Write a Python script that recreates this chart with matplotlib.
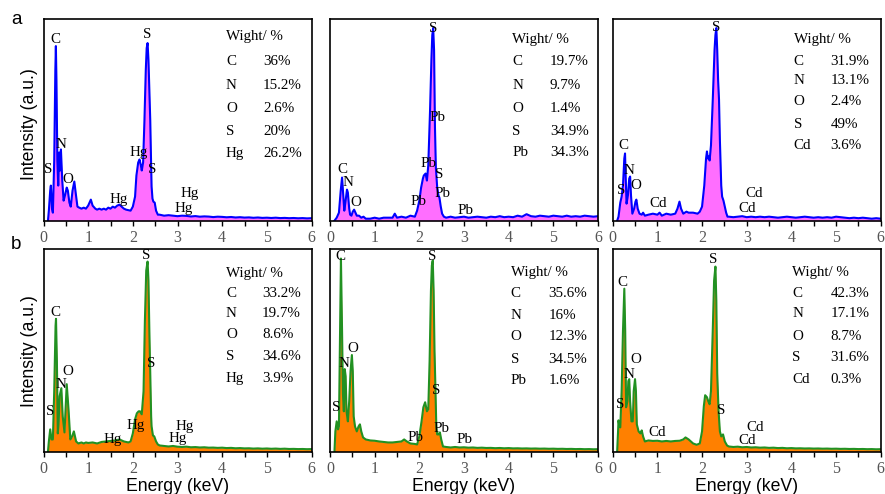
import matplotlib
matplotlib.use("Agg")
import matplotlib.pyplot as plt
from matplotlib.ticker import MultipleLocator

# ---------------- data ----------------
tail_energy = [2.6, 2.7, 2.8, 2.9, 3.0, 3.1, 3.2, 3.3, 3.4, 3.5, 3.6, 3.7, 3.8, 3.9,
               4.0, 4.1, 4.2, 4.3, 4.4, 4.5, 4.6, 4.7, 4.8, 4.9, 5.0, 5.1, 5.2, 5.3,
               5.4, 5.5, 5.6, 5.7, 5.8, 5.9, 6.0]

a1_energy = [0.10, 0.12, 0.15, 0.165, 0.19, 0.21, 0.24, 0.265, 0.277, 0.29, 0.31, 0.33,
             0.35, 0.37, 0.39, 0.42, 0.45, 0.48, 0.52, 0.545, 0.58, 0.61, 0.65, 0.69,
             0.72, 0.76, 0.80, 0.85, 0.90, 0.95, 1.00, 1.06, 1.10, 1.16, 1.20, 1.25,
             1.30, 1.35, 1.40, 1.45, 1.50, 1.55, 1.60, 1.65, 1.70, 1.75, 1.80, 1.85,
             1.90, 1.95, 2.00, 2.05, 2.08, 2.12, 2.15, 2.18, 2.20, 2.23, 2.26, 2.29,
             2.31, 2.33, 2.35, 2.37, 2.39, 2.41, 2.42, 2.44, 2.46, 2.49, 2.52, 2.56]
a1_counts = [0, 10, 30, 35, 12, 8, 60, 150, 174, 140, 60, 35,
             68, 50, 71, 40, 20, 25, 33, 30, 18, 14, 30, 39,
             28, 14, 13, 12, 13, 12, 15, 21, 15, 12, 11, 12,
             11, 12, 11, 13, 12, 14, 13, 15, 16, 14, 12, 11,
             10.5, 10, 14, 24, 45, 58, 61, 55, 50, 58, 100, 150,
             172, 177, 160, 130, 100, 55, 34, 22, 19, 18, 10, 6]
a1_tail = [6, 5, 5.5, 5, 4.5, 5, 4.8, 4.2, 4.6, 4, 4.3, 4.1, 3.6, 4, 3.8, 3.4, 3.7,
           3.2, 3.5, 3.1, 3.3, 2.9, 3.2, 2.8, 3.0, 2.7, 3.0, 2.6, 2.8, 2.5, 2.7, 2.4,
           2.6, 2.3, 2.5]

a2_energy = [0.10, 0.15, 0.20, 0.24, 0.27, 0.29, 0.32, 0.35, 0.38, 0.40, 0.43, 0.45,
             0.48, 0.51, 0.54, 0.57, 0.60, 0.65, 0.70, 0.75, 0.80, 0.90, 1.00, 1.10,
             1.20, 1.30, 1.40, 1.45, 1.50, 1.60, 1.70, 1.80, 1.90, 1.95, 2.00, 2.04,
             2.08, 2.10, 2.14, 2.17, 2.20, 2.24, 2.27, 2.29, 2.31, 2.33, 2.35, 2.37,
             2.40, 2.43, 2.45, 2.48, 2.51, 2.55]
a2_counts = [0, 3, 8, 30, 43, 30, 10, 20, 31, 28, 12, 6,
             5, 9, 11, 8, 5, 5, 3, 4, 2, 2, 3, 2,
             3, 3, 3, 7, 3, 4, 3, 5, 4, 10, 20, 33,
             42, 45, 47, 40, 55, 110, 160, 185, 192, 170, 93, 53,
             33, 25, 23, 14, 7, 4]
a2_tail = [3, 4, 3, 3.5, 4, 3, 3.5, 4, 3.5, 3, 4, 3.5, 4.5, 3.5, 4, 3.5, 5, 4, 6.5,
           4.5, 4, 5, 4.5, 4, 5, 4.5, 4, 5, 4, 4.5, 4, 5, 4.5, 4, 4.5]

a3_energy = [0.10, 0.13, 0.17, 0.20, 0.23, 0.26, 0.276, 0.29, 0.31, 0.34, 0.37, 0.39,
             0.41, 0.44, 0.48, 0.51, 0.53, 0.56, 0.60, 0.65, 0.68, 0.72, 0.80, 0.90,
             1.00, 1.05, 1.10, 1.20, 1.30, 1.40, 1.45, 1.495, 1.53, 1.58, 1.65, 1.70,
             1.80, 1.90, 1.95, 2.00, 2.05, 2.09, 2.11, 2.13, 2.15, 2.17, 2.20, 2.24,
             2.28, 2.30, 2.32, 2.34, 2.36, 2.38, 2.40, 2.43, 2.45, 2.48, 2.50, 2.54, 2.57]
a3_counts = [0, 4, 18, 24, 35, 62, 67, 45, 17, 25, 42, 44,
             25, 7, 12, 19, 21, 12, 7, 6, 8, 5, 6, 7,
             6, 8, 5, 7, 6, 7, 12, 19, 12, 7, 9, 8,
             8, 7, 9, 14, 35, 62, 69, 62, 64, 60, 75, 120,
             170, 185, 192, 170, 140, 121, 80, 35, 24, 20, 16, 8, 4]
a3_tail = [4, 3.5, 4, 4.5, 3.5, 4, 3.5, 4, 3.5, 4, 3.5, 3, 3.5, 4, 3.5, 3, 3.5, 4,
           3.5, 3, 3.5, 3, 3.5, 3, 4, 3.5, 3, 2.5, 3, 2.5, 3, 2.5, 2, 2.5, 2]

b1_energy = [0.10, 0.12, 0.15, 0.18, 0.21, 0.24, 0.27, 0.28, 0.30, 0.32, 0.34, 0.36,
             0.40, 0.43, 0.47, 0.52, 0.56, 0.60, 0.64, 0.68, 0.73, 0.78, 0.85, 0.90,
             0.95, 1.00, 1.10, 1.20, 1.30, 1.40, 1.50, 1.60, 1.70, 1.80, 1.90, 1.95,
             2.00, 2.05, 2.09, 2.13, 2.16, 2.20, 2.24, 2.27, 2.30, 2.33, 2.35, 2.37,
             2.39, 2.41, 2.42, 2.45, 2.48, 2.52, 2.56]
b1_counts = [0, 10, 22, 12, 12, 60, 125, 132, 90, 18, 30, 55,
             63, 35, 19, 67, 42, 12, 15, 20, 10, 8, 9, 8,
             9, 8.5, 9, 8, 9.5, 10, 10.5, 11, 12, 10, 9, 10,
             18, 32, 38, 40, 40, 37, 60, 130, 180, 189, 170, 120,
             78, 35, 25, 16, 15, 10, 7]
b1_tail = [6, 5.5, 5, 5.5, 4.8, 4.5, 4.8, 4.2, 4.4, 4, 4.2, 3.8, 3.9, 3.6, 3.8, 3.4,
           3.6, 3.2, 3.4, 3.1, 3.2, 2.9, 3.1, 2.8, 3.0, 2.7, 2.9, 2.6, 2.8, 2.5, 2.6,
           2.4, 2.5, 2.3, 2.4]

b2_energy = [0.10, 0.12, 0.15, 0.18, 0.20, 0.22, 0.245, 0.27, 0.29, 0.31, 0.33, 0.35,
             0.37, 0.40, 0.43, 0.46, 0.49, 0.51, 0.53, 0.56, 0.60, 0.64, 0.67, 0.70,
             0.74, 0.80, 0.90, 1.00, 1.10, 1.20, 1.30, 1.40, 1.50, 1.60, 1.66, 1.72,
             1.80, 1.90, 1.95, 2.00, 2.05, 2.09, 2.13, 2.17, 2.20, 2.23, 2.26, 2.28,
             2.30, 2.32, 2.34, 2.36, 2.38, 2.40, 2.43, 2.46, 2.49, 2.53]
b2_counts = [0, 20, 30, 22, 25, 100, 192, 120, 57, 40, 82, 75,
             40, 30, 50, 80, 96, 80, 35, 25, 20, 25, 27, 20,
             14, 12, 11, 10.7, 10, 9.5, 9, 9, 9.5, 10, 12, 10,
             8, 7.5, 7, 15, 30, 44, 49, 40, 42, 90, 160, 185,
             190, 160, 100, 64, 25, 17, 17, 19, 12, 5]
b2_tail = [4.5, 4, 4.5, 4, 4.2, 3.8, 4, 3.6, 3.8, 3.5, 3.6, 3.3, 3.5, 3.2, 3.4, 3.1,
           3.2, 3.0, 3.1, 2.9, 3.0, 2.8, 2.9, 2.7, 2.8, 2.6, 2.7, 2.5, 2.6, 2.4, 2.5,
           2.3, 2.4, 2.2, 2.3]

b3_energy = [0.10, 0.12, 0.13, 0.15, 0.17, 0.20, 0.23, 0.26, 0.28, 0.30, 0.33, 0.35,
             0.37, 0.39, 0.42, 0.45, 0.47, 0.50, 0.52, 0.54, 0.58, 0.62, 0.65, 0.68,
             0.72, 0.80, 0.90, 1.00, 1.10, 1.20, 1.30, 1.40, 1.50, 1.58, 1.63, 1.70,
             1.80, 1.88, 1.95, 2.00, 2.04, 2.07, 2.11, 2.14, 2.17, 2.20, 2.24, 2.27,
             2.30, 2.32, 2.34, 2.37, 2.40, 2.43, 2.47, 2.51, 2.56]
b3_counts = [0, 20, 31, 25, 24, 60, 120, 162, 120, 44, 50, 70,
             72, 50, 30, 30, 60, 72, 60, 27, 20, 18, 21, 15,
             10, 11, 10.5, 10.7, 10, 10.5, 10, 10.5, 10.7, 12, 14, 12,
             8, 6.7, 8, 20, 45, 56, 54, 50, 47, 60, 120, 170,
             184, 150, 78, 40, 20, 15, 17, 10, 6]
b3_tail = [5, 4.5, 4.8, 4.2, 4.5, 4, 4.2, 3.8, 4, 3.6, 3.8, 3.4, 3.6, 3.2, 3.4, 3.1,
           3.2, 3.0, 3.1, 2.9, 3.0, 2.8, 2.9, 2.7, 2.8, 2.6, 2.7, 2.5, 2.6, 2.4, 2.5,
           2.3, 2.4, 2.2, 2.3]

# peak labels: (text, energy, height)
a1_peaks = [("C", 0.277, 181), ("S", 2.33, 186), ("S", 0.10, 51), ("N", 0.40, 76),
            ("O", 0.545, 41), ("Hg", 1.68, 21), ("Hg", 2.125, 68), ("S", 2.44, 51),
            ("Hg", 3.28, 27), ("Hg", 3.13, 12)]
a2_peaks = [("S", 2.31, 192), ("Pb", 2.41, 103), ("C", 0.275, 51), ("N", 0.41, 38),
            ("O", 0.575, 18), ("Pb", 2.2, 57), ("S", 2.445, 46), ("Pb", 1.99, 19),
            ("Pb", 2.51, 27), ("Pb", 3.04, 10)]
a3_peaks = [("S", 2.32, 193), ("C", 0.24, 75), ("N", 0.375, 50), ("S", 0.186, 30),
            ("O", 0.515, 35), ("Cd", 1.025, 17), ("Cd", 3.16, 27), ("Cd", 3.02, 12)]
b1_peaks = [("S", 2.30, 195), ("C", 0.27, 138), ("O", 0.54, 80), ("N", 0.40, 67),
            ("S", 0.15, 40), ("S", 2.41, 88), ("Hg", 2.07, 26), ("Hg", 1.55, 12),
            ("Hg", 3.15, 25), ("Hg", 3.0, 13)]
b2_peaks = [("C", 0.23, 194), ("S", 2.28, 194), ("O", 0.51, 102), ("N", 0.32, 88),
            ("S", 0.135, 44), ("S", 2.38, 61), ("Pb", 2.49, 23), ("Pb", 1.91, 14),
            ("Pb", 3.01, 12)]
b3_peaks = [("S", 2.26, 191), ("C", 0.225, 168), ("O", 0.517, 92), ("N", 0.375, 77),
            ("S", 0.165, 47), ("S", 2.44, 41), ("Cd", 0.99, 19), ("Cd", 3.19, 24),
            ("Cd", 3.01, 11)]

# weight tables
a1_elements = ["C", "N", "O", "S", "Hg"]
a1_weights = ["36%", "15.2%", "2.6%", "20%", "26.2%"]
a2_elements = ["C", "N", "O", "S", "Pb"]
a2_weights = ["19.7%", "9.7%", "1.4%", "34.9%", "34.3%"]
a3_elements = ["C", "N", "O", "S", "Cd"]
a3_weights = ["31.9%", "13.1%", "2.4%", "49%", "3.6%"]
b1_elements = ["C", "N", "O", "S", "Hg"]
b1_weights = ["33.2%", "19.7%", "8.6%", "34.6%", "3.9%"]
b2_elements = ["C", "N", "O", "S", "Pb"]
b2_weights = ["35.6%", "16%", "12.3%", "34.5%", "1.6%"]
b3_elements = ["C", "N", "O", "S", "Cd"]
b3_weights = ["42.3%", "17.1%", "8.7%", "31.6%", "0.3%"]

x_ticks = [0, 1, 2, 3, 4, 5, 6]

# ---------------- layout ----------------
W, H = 885, 494
fig = plt.figure(figsize=(W / 100, H / 100), dpi=100)
SERIF = "Liberation Serif"
SANS = "Liberation Sans"

col_left = [43.5, 330.0, 612.7]
col_width = 268.0
row_top = [19.0, 249.5]
row_height = [201.7, 202.0]

panels = [
    (0, 0, a1_energy, a1_counts, a1_tail, a1_peaks, a1_elements, a1_weights,
     (0.681, 0.819, 0.911, [0.788, 0.672, 0.557, 0.441, 0.334])),
    (0, 1, a2_energy, a2_counts, a2_tail, a2_peaks, a2_elements, a2_weights,
     (0.68, 0.82, 0.90, [0.79, 0.672, 0.556, 0.44, 0.34])),
    (0, 2, a3_energy, a3_counts, a3_tail, a3_peaks, a3_elements, a3_weights,
     (0.675, 0.812, 0.90, [0.791, 0.693, 0.59, 0.479, 0.375])),
    (1, 0, b1_energy, b1_counts, b1_tail, b1_peaks, b1_elements, b1_weights,
     (0.681, 0.815, 0.881, [0.783, 0.684, 0.577, 0.469, 0.363])),
    (1, 1, b2_energy, b2_counts, b2_tail, b2_peaks, b2_elements, b2_weights,
     (0.674, 0.814, 0.887, [0.784, 0.671, 0.57, 0.455, 0.352])),
    (1, 2, b3_energy, b3_counts, b3_tail, b3_peaks, b3_elements, b3_weights,
     (0.67, 0.812, 0.885, [0.781, 0.685, 0.568, 0.465, 0.357])),
]

styles = {0: ("#0000ff", "#ff6eff"), 1: ("#229122", "#ff8000")}

for row, col, en, ct, tail, peaks, elems, wts, tab in panels:
    left = col_left[col] / W
    bottom = 1 - (row_top[row] + row_height[row]) / H
    ax = fig.add_axes([left, bottom, col_width / W, row_height[row] / H])
    x = list(en) + tail_energy
    y = list(ct) + tail
    line_c, fill_c = styles[row]
    ax.fill_between(x, 0, y, color=fill_c, lw=0)
    ax.plot(x, y, color=line_c, lw=1.5)
    ax.set_xlim(0, 6)
    ax.set_ylim(0, 201)
    ax.set_xticks(x_ticks)
    ax.xaxis.set_minor_locator(MultipleLocator(0.5))
    ax.set_yticks([])
    ax.tick_params(axis="x", which="both", direction="out", length=3.5, width=1,
                   colors="black", labelcolor="#555555", pad=3)
    for lab in ax.get_xticklabels():
        lab.set_fontfamily(SERIF)
        lab.set_fontsize(11.5)
    for s in ax.spines.values():
        s.set_linewidth(1.2)
    for txt, px, py in peaks:
        ax.text(px, py, txt, family=SERIF, fontsize=10.8, ha="center", va="center")
    ex, vx, ty, rows_y = tab
    ax.text(ex, ty, "Wight/ %", transform=ax.transAxes, family=SERIF,
            fontsize=10.8, ha="left", va="center")
    for e, w, yy in zip(elems, wts, rows_y):
        ax.text(ex, yy, e, transform=ax.transAxes, family=SERIF, fontsize=10.8,
                ha="left", va="center")
        ax.text(vx, yy, w, transform=ax.transAxes, family=SERIF, fontsize=10.8,
                ha="left", va="center")

for r, yc in zip(range(2), [124, 351]):
    fig.text(29 / W, 1 - yc / H, "Intensity (a.u.)", rotation=90, family=SANS,
             fontsize=12.7, ha="center", va="center")
for c in range(3):
    xc = col_left[c] + col_width / 2
    fig.text(xc / W, 1 - 486.5 / H, "Energy (keV)", family=SANS, fontsize=12.7,
             ha="center", va="center")

fig.text(16 / W, 1 - 19 / H, "a", family=SANS, fontsize=13.5, ha="center", va="center")
fig.text(16 / W, 1 - 244 / H, "b", family=SANS, fontsize=13.5, ha="center", va="center")

fig.savefig("out.png", dpi=100)
